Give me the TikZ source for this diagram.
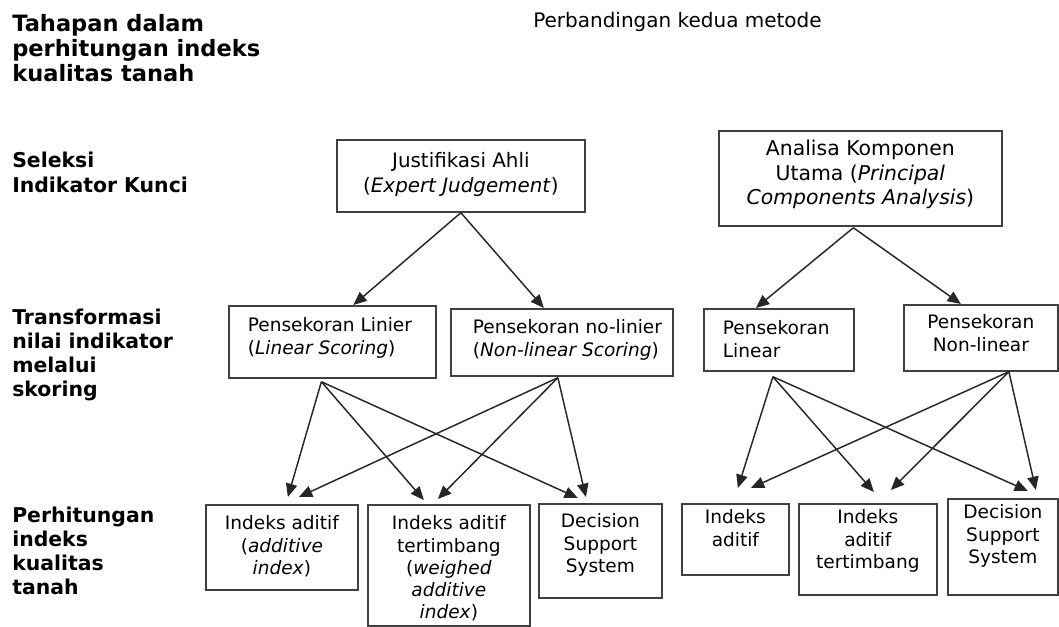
\documentclass[tikz,border=0pt]{standalone}
\usepackage{fontspec}
\setmainfont{DejaVu Sans}
\usetikzlibrary{arrows.meta,calc}
\newlength\pxu
\setlength\pxu{0.75pt}
% #1 width, #2 height, #3 first baseline (px), #4 alignment/font, #5 text
\newcommand\bt[5]{\parbox[c][#2\pxu][t]{#1\pxu}{#4\rule{0pt}{#3\pxu}#5}}
\newcommand\ftop{\fontsize{16.9pt}{18.4pt}\selectfont\bfseries}
\newcommand\flab{\fontsize{15.3pt}{18.2pt}\selectfont\bfseries}
\newcommand\ftitle{\fontsize{15pt}{18pt}\selectfont}
\newcommand\fja{\fontsize{14.9pt}{18.75pt}\selectfont}
\newcommand\fpca{\fontsize{15.3pt}{18.4pt}\selectfont}
\newcommand\fsm{\fontsize{13.9pt}{16.7pt}\selectfont}
\tikzset{
  bx/.style={draw=black!75, line width=1.3pt, inner sep=0pt, anchor=north west},
  lab/.style={inner sep=0pt, anchor=base west},
  arr/.style={-{Triangle[length=10pt,width=8.5pt]}, line width=1.1pt, draw=black!85}
}
\begin{document}
\begin{tikzpicture}[x=0.75pt,y=-0.75pt]
\useasboundingbox (0,0) rectangle (1059,627);
% row labels
\node[lab] (l1) at (12,32) {\parbox[t]{320\pxu}{\ftop Tahapan dalam\\perhitungan indeks\\kualitas tanah}};
\node[lab] (l2) at (12,168) {\parbox[t]{220\pxu}{\flab Seleksi\\Indikator Kunci}};
\node[lab] (l3) at (12,324) {\parbox[t]{220\pxu}{\flab Transformasi\\nilai indikator\\melalui\\skoring}};
\node[lab] (l4) at (12,522) {\parbox[t]{220\pxu}{\flab Perhitungan\\indeks\\kualitas\\tanah}};
\node[lab] (title) at (533,28) {\ftitle Perbandingan kedua metode};
% boxes
\node[bx] (ja) at (336,139) {\bt{248}{72}{28}{\centering\fja}{Justifikasi Ahli\\(\textit{Expert Judgement})}};
\node[bx] (pca) at (718,130) {\bt{283}{95}{25}{\centering\fpca}{Analisa Komponen\\Utama (\textit{Principal}\\\textit{Components Analysis})}};
\node[bx] (pl) at (228,305) {\bt{207}{72}{26}{\raggedright\leftskip=19\pxu\fsm}{Pensekoran Linier\\(\textit{Linear Scoring})}};
\node[bx] (pn) at (450,308) {\bt{222}{67}{25}{\raggedright\leftskip=22\pxu\fsm}{Pensekoran no-linier\\(\textit{Non-linear Scoring})}};
\node[bx] (plin) at (703,308) {\bt{150}{62}{26}{\raggedright\leftskip=19\pxu\fsm}{Pensekoran\\Linear}};
\node[bx] (pnl) at (903,304) {\bt{154}{66}{24}{\centering\fsm}{Pensekoran\\Non-linear}};
\node[bx] (ia1) at (205,504) {\bt{152}{85}{25}{\centering\fsm}{Indeks aditif\\(\textit{additive}\\\textit{index})}};
\node[bx] (iat1) at (367,504) {\bt{162}{121}{25}{\centering\fsm}{Indeks aditif\\tertimbang\\(\textit{weighed}\\\textit{additive}\\\textit{index})}};
\node[bx] (dss1) at (538,503) {\bt{123}{94}{24}{\centering\fsm}{Decision\\Support\\System}};
\node[bx] (ia2) at (681,503) {\bt{107}{71}{20}{\centering\fsm}{Indeks\\aditif}};
\node[bx] (iat2) at (798,503) {\bt{138}{91}{20}{\centering\fsm}{Indeks\\aditif\\tertimbang}};
\node[bx] (dss2) at (947,498) {\bt{110}{96}{20}{\centering\fsm}{Decision\\Support\\System}};
% sources
\coordinate (sja) at (ja.south);
\coordinate (spca) at ($(pca.south)+(-7,1)$);
\coordinate (spl) at ($(pl.south)+(-11,3)$);
\coordinate (spn) at ($(pn.south)+(-4,1)$);
\coordinate (splin) at ($(plin.south)+(-6,5)$);
\coordinate (spnl) at ($(pnl.south)+(28,0)$);
% top level
\draw[arr] (sja) -- ($(pl.north)+(21,0)$);
\draw[arr] (sja) -- ($(pn.north)+(-18,0)$);
\draw[arr] (spca) -- ($(plin.north)+(-23,0)$);
\draw[arr] (spca) -- ($(pnl.north)+(-20,0)$);
% left group
\draw[arr] (spl) -- ($(ia1.north)+(6,-7)$);
\draw[arr] (spn) -- ($(ia1.north)+(17,-7)$);
\draw[arr] (spl) -- ($(iat1.north)+(-25,-4)$);
\draw[arr] (spn) -- ($(iat1.north)+(-11,-5)$);
\draw[arr] (spl) -- ($(dss1.north)+(-22.5,-5)$);
\draw[arr] (spn) -- ($(dss1.north)+(-14.5,-6)$);
% right group
\draw[arr] (splin) -- ($(ia2.north)+(2.5,-15)$);
\draw[arr] (spnl) -- ($(ia2.north)+(15.5,-15)$);
\draw[arr] (splin) -- ($(iat2.north)+(6,-11)$);
\draw[arr] (spnl) -- ($(iat2.north)+(23,-13)$);
\draw[arr] (splin) -- ($(dss2.north)+(25,-7)$);
\draw[arr] (spnl) -- ($(dss2.north)+(33,-8)$);
\end{tikzpicture}
\end{document}
